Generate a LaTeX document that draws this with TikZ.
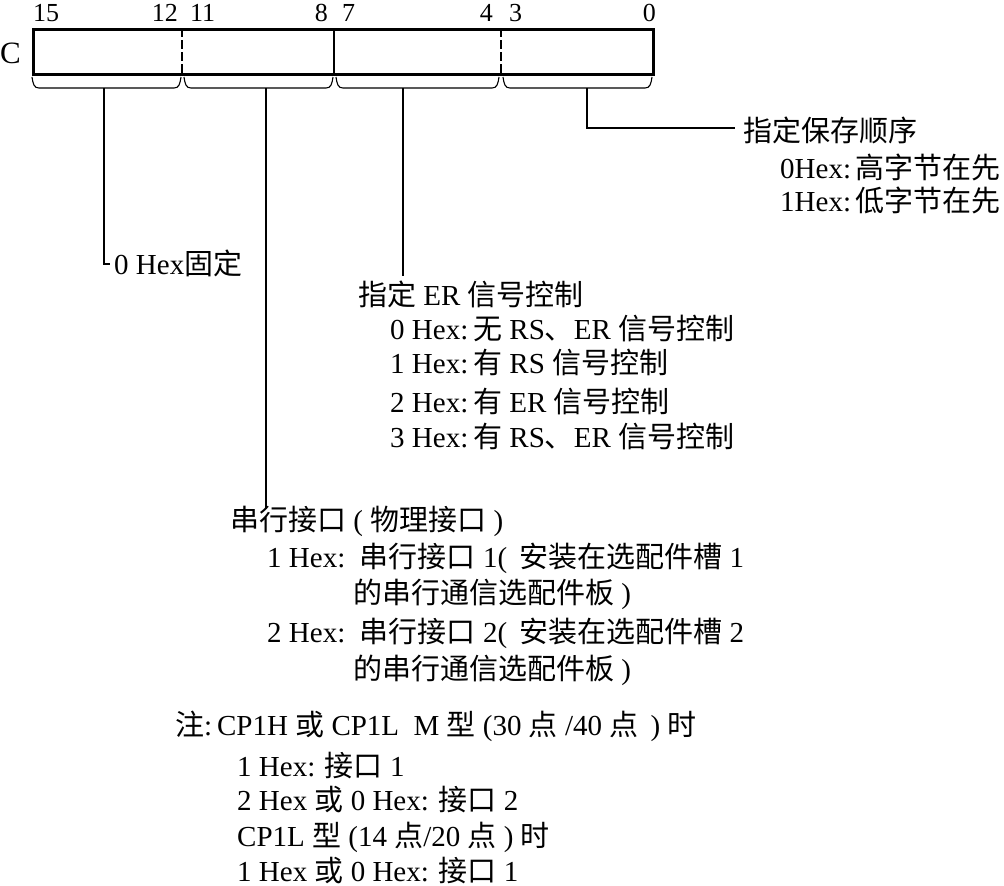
\documentclass[tikz,border=0pt]{standalone}
\usepackage{fontspec}
\setmainfont{Liberation Serif}
\newfontfamily\cjk{Noto Sans CJK SC}
\newcommand\zh[1]{{\cjk #1}}
\begin{document}
\begin{tikzpicture}[x=1pt,y=-1pt,
  txt/.style={anchor=west, inner sep=0pt, text height=23pt, text depth=3pt, font=\fontsize{29}{34}\selectfont},
  bitnum/.style={inner sep=0pt, font=\fontsize{26}{28}\selectfont, text height=17pt, text depth=0pt},
  conn/.style={line width=1.2pt},
  brace/.style={line width=1.1pt},
  divdash/.style={line width=1.2pt, dash pattern=on 9pt off 3pt},
  divsolid/.style={line width=1.2pt}]
\useasboundingbox (0,0) rectangle (1004,886);

% register box
\node[draw, line width=2.6pt, inner sep=0pt, minimum width=620pt, minimum height=45pt, anchor=north west] (reg) at (32,28) {};
\draw[divdash] (182,28) -- (182,73);
\draw[divsolid] (334,28) -- (334,73);
\draw[divdash] (501,28) -- (501,73);
\node[inner sep=0pt, anchor=west, font=\fontsize{31}{33}\selectfont, text height=21pt, text depth=0pt] (clabel) at (0,53) {C};

% bit numbers
\node[bitnum, anchor=west] (n15) at (33,13) {15};
\node[bitnum, anchor=east] (n12) at (178,13) {12};
\node[bitnum, anchor=west] (n11) at (190,13) {11};
\node[bitnum, anchor=east] (n8) at (328,13) {8};
\node[bitnum, anchor=west] (n7) at (342,13) {7};
\node[bitnum, anchor=east] (n4) at (493,13) {4};
\node[bitnum, anchor=west] (n3) at (509,13) {3};
\node[bitnum, anchor=east] (n0) at (656,13) {0};

% braces
\draw[brace] (32,77) .. controls (33,84) and (34,88) .. (39,88) -- (174,88) .. controls (179,88) and (180,84) .. (181,77);
\draw[brace] (184,77) .. controls (185,84) and (186,88) .. (191,88) -- (326,88) .. controls (331,88) and (332,84) .. (333,77);
\draw[brace] (336,77) .. controls (337,84) and (338,88) .. (343,88) -- (492,88) .. controls (497,88) and (498,84) .. (499,77);
\draw[brace] (503,77) .. controls (504,84) and (505,88) .. (510,88) -- (645,88) .. controls (650,88) and (651,84) .. (652,77);
\coordinate (s1) at (104,88);
\coordinate (s2) at (266,88);
\coordinate (s3) at (403,88);
\coordinate (s4) at (587,88);

% storage order
\node[txt] (order) at (743,131) {\zh{指定保存顺序}};
\node[txt] (order0) at (780,168) {0Hex:\,\zh{高字节在先}};
\node[txt] (order1) at (780,201) {1Hex:\,\zh{低字节在先}};

% fixed
\node[txt] (fixed) at (114,264) {0 Hex\zh{固定}};

% ER control
\node[txt] (er) at (358,295) {\zh{指定} ER \zh{信号控制}};
\node[txt] (er0) at (390,329) {0 Hex:\,\zh{无} RS\zh{、}ER \zh{信号控制}};
\node[txt] (er1) at (390,363) {1 Hex:\,\zh{有} RS \zh{信号控制}};
\node[txt] (er2) at (390,402) {2 Hex:\,\zh{有} ER \zh{信号控制}};
\node[txt] (er3) at (390,437) {3 Hex:\,\zh{有} RS\zh{、}ER \zh{信号控制}};

% serial port
\node[txt] (ser) at (230,520) {\zh{串行接口} ( \zh{物理接口} )};
\node[txt] (ser1) at (267,557) {1 Hex:\, \zh{串行接口} 1(\, \zh{安装在选配件槽} 1};
\node[txt] (ser1b) at (353,593) {\zh{的串行通信选配件板} )};
\node[txt] (ser2) at (267,632) {2 Hex:\, \zh{串行接口} 2(\, \zh{安装在选配件槽} 2};
\node[txt] (ser2b) at (353,669) {\zh{的串行通信选配件板} )};

% note
\node[txt] (note) at (175,725) {\zh{注}:\,CP1H \zh{或} CP1L\ \ M \zh{型} (30 \zh{点} /40 \zh{点}\, ) \zh{时}};
\node[txt] (note1) at (237,766) {1 Hex: \zh{接口} 1};
\node[txt] (note2) at (237,800) {2 Hex \zh{或} 0 Hex: \zh{接口} 2};
\node[txt] (note3) at (237,836) {CP1L \zh{型} (14 \zh{点}/20 \zh{点} ) \zh{时}};
\node[txt] (note4) at (237,871) {1 Hex \zh{或} 0 Hex: \zh{接口} 1};

% connectors
\draw[conn] (s1) |- ([xshift=-4pt]fixed.west);
\draw[conn] (s2) -- ([yshift=-2pt]s2 |- ser.north);
\draw[conn] (s3) -- ([yshift=6pt]s3 |- er.north);
\draw[conn] (s4) |- ([xshift=-8pt,yshift=3pt]order.west);
\end{tikzpicture}
\end{document}
